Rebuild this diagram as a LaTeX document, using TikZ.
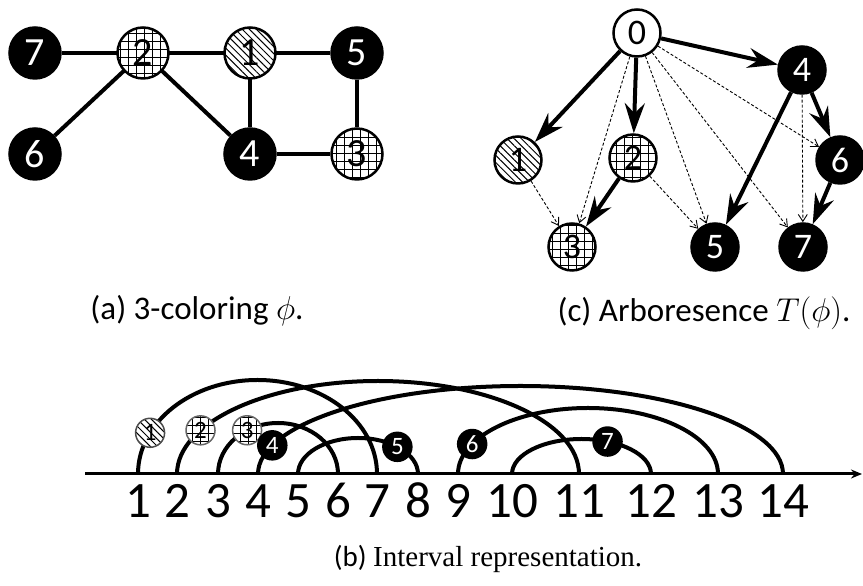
\documentclass[tikz,border=0pt]{standalone}
\usepackage{fix-cm}
\usepackage{fontspec}
\setmainfont{Carlito}
\newfontfamily\capserif{Liberation Serif}
\usetikzlibrary{arrows.meta,patterns.meta}

\tikzset{
  avert/.style={circle,draw,line width=2.5pt,minimum size=51pt,inner sep=0pt,font=\fontsize{40}{40}\selectfont},
  cvert/.style={circle,draw,line width=2.5pt,minimum size=47pt,inner sep=0pt,font=\fontsize{36}{36}\selectfont},
  bvert/.style={circle,draw,line width=1.5pt,minimum size=29pt,inner sep=0pt,font=\fontsize{25}{25}\selectfont},
  blk/.style={fill=black,text=white},
  hatch/.style={preaction={fill=white},pattern={Lines[angle=-45,distance=5pt,line width=1pt]}},
  grd/.style={preaction={fill=white},pattern={Hatch[angle=0,distance=8pt,line width=1pt]}},
  edge/.style={line width=4pt},
  tree/.style={line width=4pt,-{Stealth[length=30pt,width=20pt,inset=10pt]}},
  nontree/.style={line width=0.9pt,dash pattern=on 3pt off 2pt,-{Straight Barb[length=7pt,width=9pt,line width=0.9pt]}},
  interval/.style={line width=4pt},
  num/.style={font=\fontsize{51}{51}\selectfont,anchor=base,inner sep=0pt},
  caption/.style={font=\fontsize{33}{33}\selectfont,anchor=base,inner sep=0pt}
}

\begin{document}
\begin{tikzpicture}[x=1pt,y=1pt]
    \useasboundingbox (0,0) rectangle (863,586);

    % (a) the 3-coloring
    \node[avert,blk] (a7) at (35,533) {7};
    \node[avert,grd] (a2) at (143,533) {2};
    \node[avert,hatch] (a1) at (250,533) {1};
    \node[avert,blk] (a5) at (357,533) {5};
    \node[avert,blk] (a6) at (35,432) {6};
    \node[avert,blk] (a4) at (250,432) {4};
    \node[avert,grd] (a3) at (357,432) {3};

    \draw[edge] (a7)--(a2);
    \draw[edge] (a2)--(a1);
    \draw[edge] (a1)--(a5);
    \draw[edge] (a2)--(a6);
    \draw[edge] (a2)--(a4);
    \draw[edge] (a1)--(a4);
    \draw[edge] (a5)--(a3);
    \draw[edge] (a4)--(a3);

    \node[caption] (capa) at (197,266) {(a) 3-coloring $\phi$.};

    % (c) the arboresence
    \node[cvert] (c0) at (637,553) {0};
    \node[cvert,blk] (c4) at (802,516) {4};
    \node[cvert,hatch] (c1) at (518,426) {1};
    \node[cvert,grd] (c2) at (633,428) {2};
    \node[cvert,blk] (c6) at (840,426) {6};
    \node[cvert,grd] (c3) at (572,339) {3};
    \node[cvert,blk] (c5) at (715,339) {5};
    \node[cvert,blk] (c7) at (803,339) {7};

    \draw[nontree] (c1)--(c3);
    \draw[nontree] (c0)--(c3);
    \draw[nontree] (c0)--(c5);
    \draw[nontree] (c0)--(c7);
    \draw[nontree] (c0)--(c6);
    \draw[nontree] (c2)--(c5);
    \draw[nontree] (c4)--(c7);

    \draw[tree] (c0)--(c1);
    \draw[tree] (c0)--(c2);
    \draw[tree] (c0)--(c4);
    \draw[tree] (c2)--(c3);
    \draw[tree] (c4)--(c5);
    \draw[tree] (c4)--(c6);
    \draw[tree] (c6)--(c7);

    \node[caption] (capc) at (704,264) {(c) Arboresence $T(\phi)$.};

    % (b) the intervals
    \coordinate (o) at (85,112);
    \coordinate (xend) at (862,112);
    \draw[line width=3pt,-{Stealth[length=11pt,width=9pt]}] (o)--(xend);

    \foreach \n/\x in {1/138,2/177,3/218,4/258,5/298,6/338,7/377,8/418,9/458,10/512,11/579,12/651,13/718,14/783}
    {
        \coordinate (t\n) at (\x,112);
        \node[num] (n\n) at (\x,68) {\n};
    }

    \draw[interval] (t1) arc[start angle=180,end angle=0,x radius=119.5pt,y radius=94pt];
    \draw[interval] (t2) arc[start angle=180,end angle=0,x radius=201pt,y radius=93pt];
    \draw[interval] (t3) arc[start angle=180,end angle=0,x radius=60pt,y radius=51pt];
    \draw[interval] (t4) arc[start angle=180,end angle=0,x radius=262.5pt,y radius=88pt];
    \draw[interval] (t5) arc[start angle=180,end angle=0,x radius=60pt,y radius=36pt];
    \draw[interval] (t9) arc[start angle=180,end angle=0,x radius=130pt,y radius=66pt];
    \draw[interval] (t10) arc[start angle=180,end angle=0,x radius=69.5pt,y radius=35pt];

    \path (257.5,112) ++(154:119.5pt and 94pt) node[bvert,draw=black!70,hatch] (b1) {1};
    \path (378,112) ++(152:201pt and 93pt) node[bvert,draw=black!60,grd] (b2) {2};
    \path (278,112) ++(121:60pt and 51pt) node[bvert,draw=black!60,grd] (b3) {3};
    \path (520.5,112) ++(161:262.5pt and 88pt) node[bvert,blk] (b4) {4};
    \path (358,112) ++(49:60pt and 36pt) node[bvert,blk] (b5) {5};
    \path (588,112) ++(153:130pt and 66pt) node[bvert,blk] (b6) {6};
    \path (581.5,112) ++(68:69.5pt and 35pt) node[bvert,blk] (b7) {7};

    \node[caption,font=\fontsize{29}{29}\selectfont] (capb) at (488,19) {(b) {\capserif Interval representation.}};
\end{tikzpicture}
\end{document}
